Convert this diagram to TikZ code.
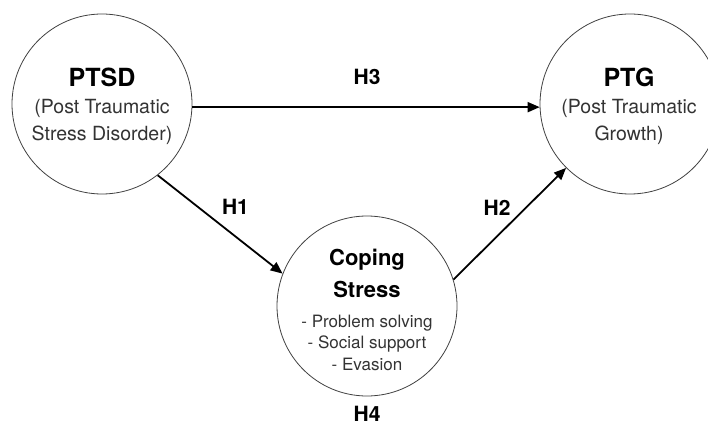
\documentclass[tikz,border=0pt]{standalone}
\usepackage{fontspec}
\setmainfont{TeX Gyre Heros}
\usetikzlibrary{arrows.meta}

\tikzset{
  bubble/.style={circle, draw=black!75, line width=0.8pt, minimum size=180pt, inner sep=0pt},
  inside/.style={align=center, inner sep=0pt, text=black!80},
  hyp/.style={font=\fontsize{21}{21}\selectfont\bfseries, inner sep=0pt},
  link/.style={line width=1.8pt, -{Triangle[length=12pt,width=10pt]}},
}

\begin{document}
\begin{tikzpicture}[x=1pt,y=-1pt]
   \useasboundingbox (0,0) rectangle (708,427);
   % the three circles
   \node[bubble] (ptsd) at (102,104) {};
   \node[bubble] (ptg) at (630,104) {};
   \node[bubble] (coping) at (367,306) {};
   % texts inside
   \node[inside, font=\fontsize{19.5}{27}\selectfont] (ptsdtext) at (102,106.5)
     {{\fontsize{25}{25}\selectfont\bfseries\color{black}PTSD}\\(Post Traumatic\\Stress Disorder)};
   \node[inside, font=\fontsize{19.5}{27}\selectfont] (ptgtext) at (629,106.5)
     {{\fontsize{25}{25}\selectfont\bfseries\color{black}PTG}\\(Post Traumatic\\Growth)};
   \node[inside, font=\fontsize{17}{21.5}\selectfont] (copingtext) at (367,309.5)
     {{\fontsize{22}{22}\selectfont\bfseries\color{black}Coping}\\[10.5pt]
      {\fontsize{22}{22}\selectfont\bfseries\color{black}Stress}\\[8.5pt]
      - Problem solving\\- Social support\\- Evasion};
   % arrows
   \draw[link] (ptsd.-2) -- (ptg.182);
   \draw[link] (ptsd.-52) -- (coping.159);
   \draw[link] (coping.17) -- (ptg.225);
   % hypotheses
   \node[hyp] (h3) at (367,77) {H3};
   \node[hyp] (h1) at (235.5,207) {H1};
   \node[hyp] (h2) at (497,208) {H2};
   \node[hyp] (h4) at (367,414) {H4};
\end{tikzpicture}
\end{document}
